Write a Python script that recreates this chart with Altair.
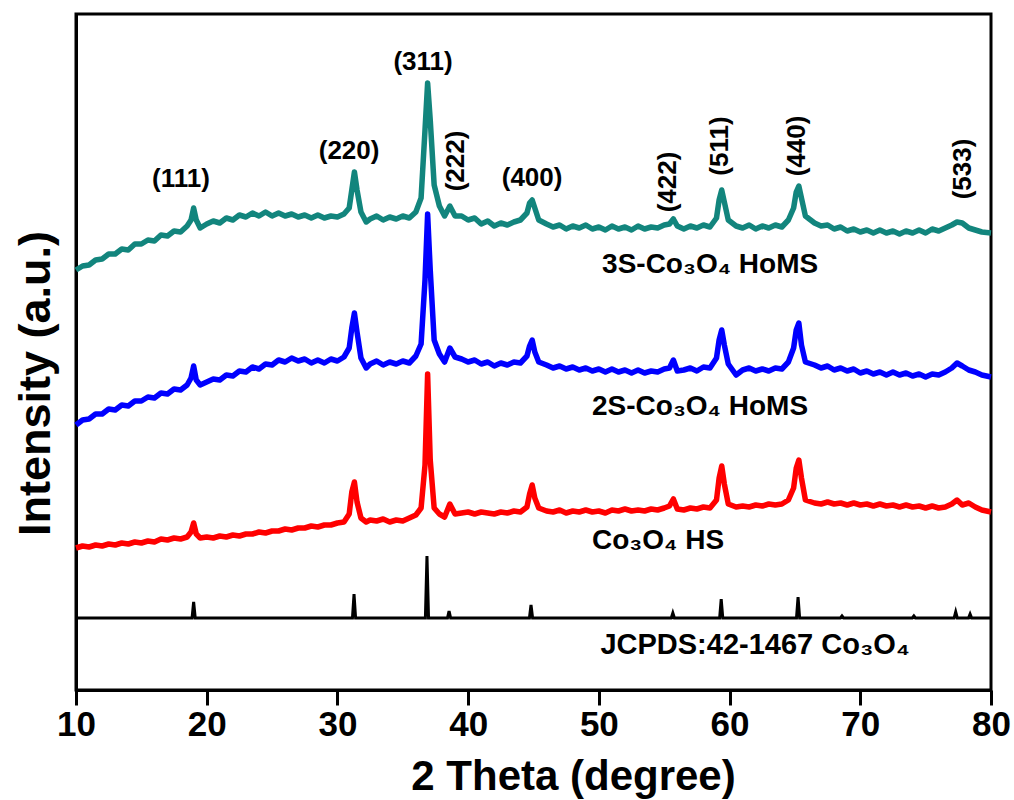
import altair as alt
import pandas as pd

# ---- shared 2-theta sampling (degrees) ----
two_theta = [
    10.0, 10.5, 11.0, 11.5, 12.0, 12.5, 13.0, 13.5, 14.0, 14.5, 15.0, 15.5, 16.0, 16.5, 17.0, 17.5, 18.0, 18.5,
    18.8, 19.0, 19.2, 19.5,
    20.0, 20.5, 21.0, 21.5, 22.0, 22.5, 23.0, 23.5, 24.0, 24.5, 25.0, 25.5, 26.0, 26.5, 27.0, 27.5, 28.0, 28.5, 29.0, 29.5, 30.0, 30.5,
    30.9, 31.1, 31.3, 31.5, 31.8, 32.2,
    32.5, 33.0, 33.5, 34.0, 34.5, 35.0, 35.5, 36.0,
    36.4, 36.7, 36.9, 37.1, 37.4, 37.8, 38.2, 38.6, 39.0,
    39.5, 40.0, 40.5, 41.0, 41.5, 42.0, 42.5, 43.0, 43.5, 44.0, 44.5,
    44.7, 44.9, 45.1, 45.4,
    46.0, 46.5, 47.0, 47.5, 48.0, 48.5, 49.0, 49.5, 50.0, 50.5, 51.0, 51.5, 52.0, 52.5, 53.0, 53.5, 54.0, 54.5, 55.0,
    55.4, 55.7, 56.0,
    56.5, 57.0, 57.5, 58.0, 58.5, 59.0,
    59.2, 59.4, 59.6, 59.9,
    60.5, 61.0, 61.5, 62.0, 62.5, 63.0, 63.5, 64.0, 64.5,
    64.9, 65.1, 65.3, 65.5, 65.8,
    66.5, 67.0, 67.5, 68.0, 68.5, 69.0, 69.5, 70.0, 70.5, 71.0, 71.5, 72.0, 72.5, 73.0, 73.5, 74.0, 74.5, 75.0, 75.5, 76.0, 76.5, 77.0,
    77.4, 77.8, 78.3, 78.8, 79.3, 80.0,
]

# ---- intensities (a.u., offset stacked) ----
y_3s = [
    420, 424, 425, 430, 431, 436, 436, 441, 440, 446, 446, 450, 449, 455, 454, 459, 458, 464,
    470, 482, 470, 462,
    466, 469, 467, 472, 470, 475, 473, 477, 474, 478, 474, 477, 474, 476, 473, 475, 472, 475, 472, 474, 473, 476,
    482, 500, 518, 500, 478, 468,
    471, 474, 470, 473, 471, 474, 472, 478,
    492, 560, 607, 570, 505, 484, 474, 484, 474,
    474, 470, 472, 466, 469, 464, 467, 465, 468, 470, 477,
    487, 490, 482, 470,
    466, 463, 465, 461, 464, 462, 465, 461, 463, 460, 464, 461, 463, 460, 464, 461, 463, 462, 465,
    466, 471, 464,
    461, 464, 462, 465, 463, 472,
    490, 500, 488, 470,
    464, 462, 465, 461, 464, 462, 465, 463, 470,
    482, 498, 504, 492, 474,
    467, 464, 465, 461, 463, 459, 461, 458, 460, 457, 460, 457, 459, 456, 459, 457, 460, 457, 461, 459, 462, 465,
    468, 467, 462, 460, 458, 457,
]

y_2s = [
    265, 270, 271, 276, 276, 281, 280, 285, 284, 289, 289, 293, 292, 297, 296, 301, 300, 305,
    312, 324, 310, 305,
    308, 311, 310, 315, 314, 319, 318, 323, 321, 326, 325, 330, 328, 332, 329, 331, 327, 330, 327, 331, 329, 333,
    342, 362, 377, 358, 332, 322,
    326, 329, 325, 328, 326, 329, 327, 334,
    346, 410, 476, 420, 350, 336, 328, 342, 333,
    331, 328, 330, 326, 328, 324, 327, 325, 328, 327, 334,
    344, 350, 338, 328,
    325, 322, 324, 321, 323, 320, 322, 319, 321, 318, 321, 318, 320, 317, 320, 317, 319, 318, 321,
    322, 330, 319,
    320, 322, 319, 323, 322, 332,
    350, 360, 345, 326,
    315, 320, 322, 319, 321, 319, 322, 321, 328,
    342, 360, 367, 345, 328,
    325, 322, 324, 320, 322, 319, 321, 317, 319, 316, 318, 315, 318, 315, 317, 314, 316, 313, 316, 315, 318, 322,
    327, 324, 320, 318, 315, 313,
]

y_hs = [
    142, 144, 143, 145, 144, 146, 145, 147, 146, 148, 147, 149, 148, 151, 150, 152, 151, 153,
    158, 167, 156, 152,
    153, 152, 154, 153, 155, 154, 156, 156, 158, 157, 159, 159, 161, 160, 162, 162, 164, 163, 165, 165, 167, 168,
    176, 198, 208, 188, 172, 168,
    170, 169, 171, 168, 170, 169, 172, 175,
    182, 225, 316, 230, 182, 176, 173, 186, 176,
    177, 178, 176, 178, 177, 176, 178, 177, 179, 178, 183,
    196, 205, 192, 182,
    179, 178, 180, 177, 179, 178, 180, 178, 179, 177, 180, 179, 181, 179, 180, 179, 181, 180, 182,
    184, 191, 181,
    180, 182, 181, 183, 182, 190,
    212, 224, 206, 186,
    183, 184, 183, 185, 184, 186, 185, 186, 190,
    202, 222, 230, 212, 190,
    187, 186, 188, 186, 187, 185, 187, 185, 186, 184, 186, 184, 185, 183, 185, 183, 184, 182, 184, 182, 183, 186,
    190, 185, 187, 183, 180, 178,
]

# ---- JCPDS 42-1467 reference pattern ----
ref_pos = [19.0, 31.27, 36.85, 38.54, 44.81, 55.66, 59.36, 65.24, 68.6, 74.1, 77.3, 78.4]
ref_top = [88, 96, 134, 79, 85, 77, 91, 93, 74, 74, 78, 76]
ref_base = 72

series_names = ["3S-Co3O4 HoMS", "2S-Co3O4 HoMS", "Co3O4 HS"]
series_colors = ["#12857d", "#0000ff", "#ff0000"]

# ---- labels ----
hkl_flat = ["(111)", "(220)", "(311)", "(400)"]
hkl_flat_x = [18.03, 30.89, 36.55, 44.89]
hkl_flat_y = [511, 539, 628, 512]

hkl_rot = ["(222)", "(422)", "(511)", "(440)", "(533)"]
hkl_rot_x = [39.07, 55.29, 59.27, 65.16, 77.87]
hkl_rot_y = [529, 508, 544, 544, 521]

sample_labels = ["3S-Co\u2083O\u2084 HoMS", "2S-Co\u2083O\u2084 HoMS", "Co\u2083O\u2084 HS"]
sample_x = [58.51, 57.74, 54.53]
sample_y = [425, 283, 149]

ref_label = ["JCPDS:42-1467 Co\u2083O\u2084"]
ref_label_x = [61.95]
ref_label_y = [45]

# ---- build tables ----
rows = []
for name, ys in zip(series_names, [y_3s, y_2s, y_hs]):
    assert len(ys) == len(two_theta), (name, len(ys), len(two_theta))
    for xv, yv in zip(two_theta, ys):
        rows.append({"theta": xv, "inten": yv, "series": name})
curves = pd.DataFrame(rows)

ref_pts = [(10.0, ref_base)]
for p, h in zip(ref_pos, ref_top):
    ref_pts += [(p - 0.12, ref_base), (p, h), (p + 0.12, ref_base)]
ref_pts.append((80.0, ref_base))
ref_df = pd.DataFrame({"theta": [a for a, b in ref_pts], "inten": [b for a, b in ref_pts]})

flat_df = pd.DataFrame({"t": hkl_flat, "x": hkl_flat_x, "y": hkl_flat_y})
rot_df = pd.DataFrame({"t": hkl_rot, "x": hkl_rot_x, "y": hkl_rot_y})
samp_df = pd.DataFrame({"t": sample_labels, "x": sample_x, "y": sample_y})
refl_df = pd.DataFrame({"t": ref_label, "x": ref_label_x, "y": ref_label_y})

FONT = "Liberation Sans"

xscale = alt.Scale(domain=[10, 80], nice=False, zero=False)
yscale = alt.Scale(domain=[0, 676], nice=False, zero=False)

x_enc = alt.X(
    "theta:Q",
    scale=xscale,
    axis=alt.Axis(
        values=[10, 20, 30, 40, 50, 60, 70, 80],
        format="d",
        title="2 Theta (degree)",
        titleFont=FONT,
        titleFontSize=42,
        titleFontWeight="bold",
        titleColor="black",
        titleX=497,
        titleY=99,
        titleAlign="center",
        titleBaseline="alphabetic",
        labelFont=FONT,
        labelFontSize=35,
        labelFontWeight="bold",
        labelColor="black",
        labelPadding=2,
        labelFlush=False,
        labelOverlap=False,
        tickSize=15,
        tickWidth=3,
        tickColor="black",
        domainColor="black",
        domainWidth=3,
        grid=False,
    ),
)
y_enc = alt.Y(
    "inten:Q",
    scale=yscale,
    axis=alt.Axis(
        title="Intensity (a.u.)",
        titleFont=FONT,
        titleFontSize=45,
        titleFontWeight="bold",
        titleColor="black",
        titleAngle=270,
        titleX=-41,
        titleY=369,
        titleAlign="center",
        titleBaseline="middle",
        labels=False,
        ticks=False,
        domainColor="black",
        domainWidth=3,
        grid=False,
    ),
)

lines = alt.Chart(curves).mark_line(strokeWidth=5.5, strokeJoin="round").encode(
    x=x_enc,
    y=y_enc,
    color=alt.Color("series:N", scale=alt.Scale(domain=series_names, range=series_colors), legend=None),
    detail="series:N",
)

ref_line = alt.Chart(ref_df).mark_line(strokeWidth=3, color="black").encode(
    x=alt.X("theta:Q", scale=xscale),
    y=alt.Y("inten:Q", scale=yscale),
)

flat_txt = alt.Chart(flat_df).mark_text(
    font=FONT, fontSize=26, fontWeight="bold", color="black", align="center", baseline="middle"
).encode(x=alt.X("x:Q", scale=xscale), y=alt.Y("y:Q", scale=yscale), text="t:N")

rot_txt = alt.Chart(rot_df).mark_text(
    font=FONT, fontSize=26, fontWeight="bold", color="black", align="center", baseline="middle", angle=270
).encode(x=alt.X("x:Q", scale=xscale), y=alt.Y("y:Q", scale=yscale), text="t:N")

samp_txt = alt.Chart(samp_df).mark_text(
    font=FONT, fontSize=28, fontWeight="bold", color="black", align="center", baseline="middle"
).encode(x=alt.X("x:Q", scale=xscale), y=alt.Y("y:Q", scale=yscale), text="t:N")

refl_txt = alt.Chart(refl_df).mark_text(
    font=FONT, fontSize=29, fontWeight="bold", color="black", align="center", baseline="middle"
).encode(x=alt.X("x:Q", scale=xscale), y=alt.Y("y:Q", scale=yscale), text="t:N")

chart = (
    alt.layer(lines, ref_line, flat_txt, rot_txt, samp_txt, refl_txt)
    .properties(
        width=915,
        height=676,
        autosize=alt.AutoSizeParams(type="none"),
        padding={"left": 76, "top": 14, "right": 23, "bottom": 110},
        background="white",
    )
    .configure_view(stroke="black", strokeWidth=3)
)

chart.save("out.html", embed_options={"renderer": "svg", "actions": False})
